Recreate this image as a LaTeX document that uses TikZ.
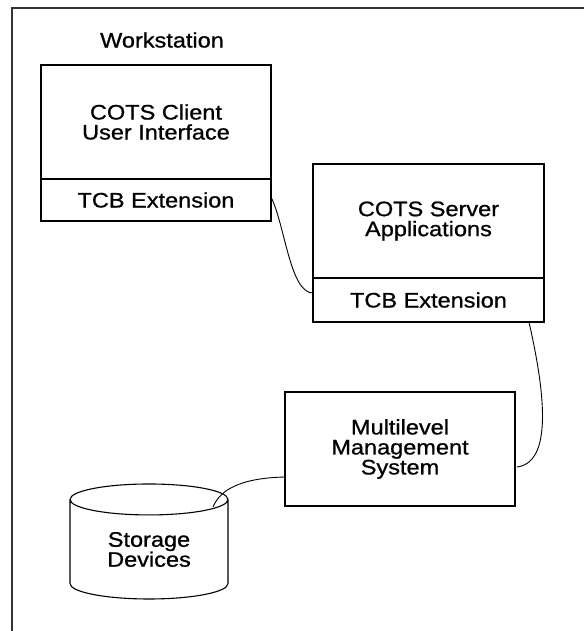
\documentclass[tikz,border=0pt]{standalone}
\usepackage{fontspec}
\setmainfont{Liberation Sans}[FakeStretch=1.12,FakeBold=0.9]
\usepackage{tikz}
\usetikzlibrary{shapes.geometric}

\begin{document}
\begin{tikzpicture}[x=1pt,y={(0pt,-1pt)},
    box/.style={draw,line width=1.1pt,inner sep=0pt,outer sep=0pt,anchor=north west,
      align=center,minimum width=230pt,font=\fontsize{21}{20}\selectfont},
    link/.style={line width=0.9pt}]
  \useasboundingbox (0,0) rectangle (584,631);
  \draw[line width=1.6pt,black!80] (12,631) -- (12,8) -- (584,8);
  \node (ws) [font=\fontsize{21}{20}\selectfont] at (162,40) {Workstation};
    % client side
    \node (client) [box,minimum height=114pt] at (41,65) {COTS Client\\User Interface};
    \node (clientTcb) [box,minimum height=42pt] at (41,179) {TCB Extension};
    % server side
    \node (server) [box,minimum width=231pt,minimum height=114pt] at (313,164) {COTS Server\\Applications};
    \node (serverTcb) [box,minimum width=231pt,minimum height=44pt] at (313,278) {TCB Extension};
    \node (mms) [box,minimum height=114pt] at (285,392) {Multilevel\\Management\\System};
    \node (storage) [draw,line width=1.1pt,cylinder,shape border rotate=90,aspect=0.37,
      minimum width=158pt,minimum height=115pt,inner sep=0pt,outer sep=0pt,align=center,
      font=\fontsize{21}{20}\selectfont] at (149,549.5) {Storage\\Devices};
    \coordinate (storageIn) at (213,507);
	\draw[link] ([yshift=3pt]clientTcb.east) .. controls (285,225) and (290,293) .. ([yshift=7pt]serverTcb.west);
	\draw[link] ([xshift=-15pt]serverTcb.south east) .. controls (542,380) and (556,462) .. ([xshift=2pt,yshift=-18pt]mms.east);
	\draw[link] ([yshift=29pt]mms.south west) .. controls (240,478) and (220,490) .. (storageIn);
\end{tikzpicture}
\end{document}
